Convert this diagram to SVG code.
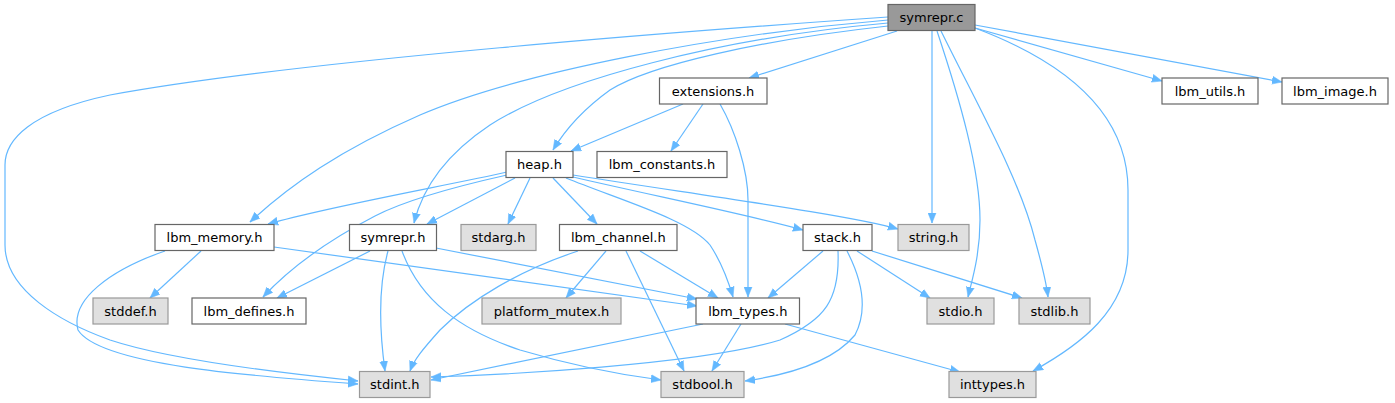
<svg xmlns="http://www.w3.org/2000/svg" width="1395" height="403" viewBox="0 0 1395 403">
<style>
.n rect{fill:#ffffff;stroke:#666666;stroke-width:1.2}
.s rect{fill:#e0e0e0;stroke:#999999;stroke-width:1.2}
.r rect{fill:#999999;stroke:#666666;stroke-width:1.2}
text{font-family:"DejaVu Sans","Liberation Sans",sans-serif;font-size:13px;fill:#000;text-anchor:middle}
.e path{fill:none;stroke:#63b8ff;stroke-width:1.2;marker-end:url(#a)}
</style>
<defs>
<marker id="a" markerUnits="userSpaceOnUse" markerWidth="11" markerHeight="9" refX="10" refY="4" orient="auto" viewBox="0 0 11 8">
<path d="M0,0 L10,4 L0,8 z" fill="#63b8ff" stroke="#63b8ff" stroke-width="0.5"/>
</marker>
</defs>
<g class="e" id="edges">
<!-- symrepr.c -->
<path d="M888,17 C700,30 300,60 110,95 C30,112 5,140 5,165 L5,245 C5,290 60,322 110,340 C170,360 290,374 358,381"/>
<path d="M888,20 C720,34 520,72 420,115 C340,150 290,185 250,222"/>
<path d="M888,23 C720,38 560,80 490,125 C445,155 422,190 414,223"/>
<path d="M888,26 C760,40 650,65 610,90 C585,108 565,130 553,150"/>
<path d="M897,31 L749,78"/>
<path d="M932,31 L932,223"/>
<path d="M937,31 C960,100 980,170 980,220 C980,255 972,280 968,297"/>
<path d="M941,31 C980,110 1020,180 1035,240 C1042,265 1046,280 1048,297"/>
<path d="M975,28 C1060,60 1128,110 1128,190 L1128,250 C1128,310 1080,345 1033,371"/>
<path d="M975,28 L1162,81"/>
<path d="M975,25 L1282,82"/>
<!-- extensions.h -->
<path d="M683,104 L571,151"/>
<path d="M703,104 L671,151"/>
<path d="M720,104 C735,130 748,170 748,200 L748,297"/>
<!-- heap.h -->
<path d="M507,172 C450,185 330,206 268,224"/>
<path d="M507,175 C440,190 400,203 375,216 C325,242 288,270 263,297"/>
<path d="M515,178 L427,224"/>
<path d="M530,178 L508,224"/>
<path d="M553,178 L597,224"/>
<path d="M566,178 C620,200 690,220 710,245 C720,260 728,280 733,297"/>
<path d="M573,177 C650,195 750,215 803,230"/>
<path d="M573,175 C700,195 850,215 898,229"/>
<!-- lbm_memory.h -->
<path d="M201,251 L150,298"/>
<path d="M165,251 C110,270 70,300 78,330 C100,365 250,376 358,384"/>
<path d="M274,247 L697,306"/>
<!-- symrepr.h -->
<path d="M370,251 L277,298"/>
<path d="M388,251 C380,280 378,320 385,371"/>
<path d="M402,251 C420,300 460,330 520,350 C580,368 630,376 661,380"/>
<path d="M436,248 L697,299"/>
<!-- lbm_channel.h -->
<path d="M578,251 C520,270 470,300 440,330 C422,350 414,360 410,371"/>
<path d="M606,251 L566,298"/>
<path d="M626,251 L684,371"/>
<path d="M640,251 L718,298"/>
<!-- stack.h -->
<path d="M823,251 L768,298"/>
<path d="M838,251 C840,300 825,320 780,340 C700,365 500,375 431,377"/>
<path d="M847,251 C862,280 868,310 855,335 C830,365 780,376 745,381"/>
<path d="M857,251 L930,298"/>
<path d="M872,251 L1022,298"/>
<!-- lbm_types.h -->
<path d="M703,324 L431,380"/>
<path d="M741,324 L712,371"/>
<path d="M785,324 L960,372"/>
</g>
<g class="r" id="symrepr_c"><rect x="888" y="4.5" width="87" height="26"/><text x="931.5" y="22">symrepr.c</text></g>
<g class="n" id="extensions_h"><rect x="659.5" y="78" width="107.5" height="26"/><text x="713" y="95.5">extensions.h</text></g>
<g class="n" id="lbm_utils_h"><rect x="1162" y="78" width="96" height="26"/><text x="1210" y="95.5">lbm_utils.h</text></g>
<g class="n" id="lbm_image_h"><rect x="1282" y="78" width="106" height="26"/><text x="1335" y="95.5">lbm_image.h</text></g>
<g class="n" id="heap_h"><rect x="506" y="151.5" width="67" height="26"/><text x="539.5" y="169">heap.h</text></g>
<g class="n" id="lbm_constants_h"><rect x="597" y="151.5" width="130" height="26"/><text x="662" y="169">lbm_constants.h</text></g>
<g class="n" id="lbm_memory_h"><rect x="155" y="224.5" width="119" height="26"/><text x="214.5" y="242">lbm_memory.h</text></g>
<g class="n" id="symrepr_h"><rect x="349.5" y="224.5" width="87" height="26"/><text x="393" y="242">symrepr.h</text></g>
<g class="s" id="stdarg_h"><rect x="461" y="224.5" width="75" height="26"/><text x="498.5" y="242">stdarg.h</text></g>
<g class="n" id="lbm_channel_h"><rect x="559.5" y="224.5" width="117.5" height="26"/><text x="618.3" y="242">lbm_channel.h</text></g>
<g class="n" id="stack_h"><rect x="803" y="224.5" width="69" height="26"/><text x="837.5" y="242">stack.h</text></g>
<g class="s" id="string_h"><rect x="898" y="224.5" width="71" height="26"/><text x="933.5" y="242">string.h</text></g>
<g class="s" id="stddef_h"><rect x="93" y="298" width="75" height="26"/><text x="130.5" y="315.5">stddef.h</text></g>
<g class="n" id="lbm_defines_h"><rect x="192" y="298" width="114" height="26"/><text x="249" y="315.5">lbm_defines.h</text></g>
<g class="s" id="platform_mutex_h"><rect x="482" y="298" width="139" height="26"/><text x="551.5" y="315.5">platform_mutex.h</text></g>
<g class="n" id="lbm_types_h"><rect x="696" y="298" width="103.5" height="26"/><text x="747.8" y="315.5">lbm_types.h</text></g>
<g class="s" id="stdio_h"><rect x="927" y="298" width="67" height="26"/><text x="960.5" y="315.5">stdio.h</text></g>
<g class="s" id="stdlib_h"><rect x="1019" y="298" width="71" height="26"/><text x="1054.5" y="315.5">stdlib.h</text></g>
<g class="s" id="stdint_h"><rect x="359.5" y="371.5" width="70.5" height="26"/><text x="394.8" y="389">stdint.h</text></g>
<g class="s" id="stdbool_h"><rect x="661" y="371.5" width="83" height="26"/><text x="702.5" y="389">stdbool.h</text></g>
<g class="s" id="inttypes_h"><rect x="949" y="371.5" width="87" height="26"/><text x="992.5" y="389">inttypes.h</text></g>
</svg>
